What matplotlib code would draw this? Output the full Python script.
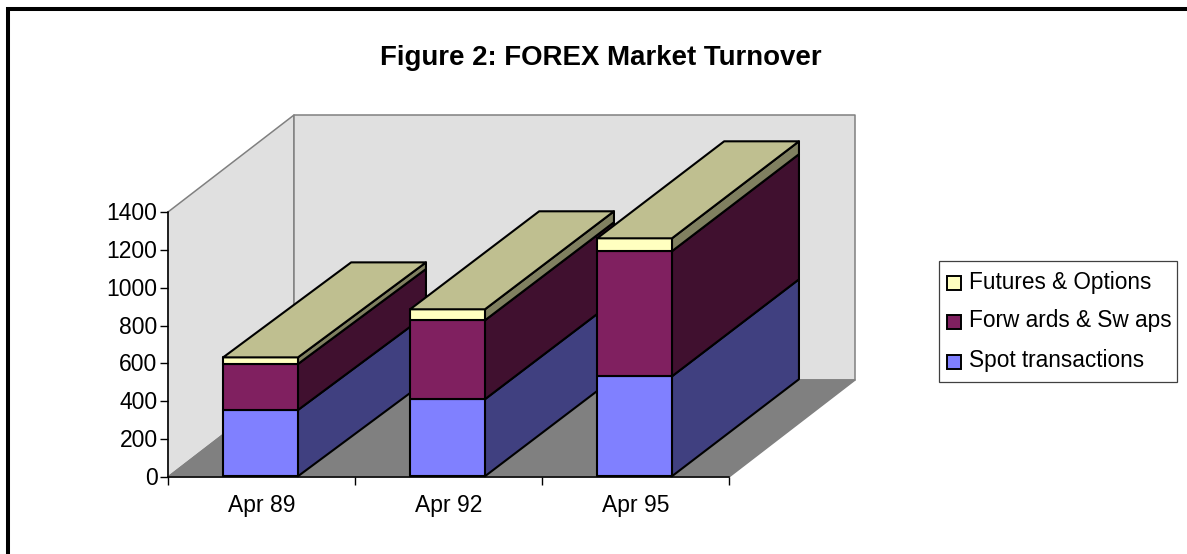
import matplotlib
matplotlib.use("Agg")
import matplotlib.pyplot as plt
from matplotlib.patches import Polygon, Rectangle
from matplotlib.lines import Line2D
from matplotlib.transforms import ScaledTranslation

plt.rcParams['font.family'] = ['Liberation Sans', 'DejaVu Sans']

categories = ['Apr 89', 'Apr 92', 'Apr 95']
spot = [350, 407, 528]
forwards = [243, 417, 661]
futures = [35, 58, 68]
series_names = ['Spot transactions', 'Forw ards & Sw aps', 'Futures & Options']
yticks = [0, 200, 400, 600, 800, 1000, 1200, 1400]
title = 'Figure 2: FOREX Market Turnover'

front_colors = ['#8080FF', '#802060', '#FFFFC0']
side_colors = ['#404080', '#40102F', '#808060']
top_color = '#BFBF90'
WALL = '#E0E0E0'
FLOOR = '#808080'
EDGE = '#808080'

W, H = 1187, 554
fig = plt.figure(figsize=(W / 100, H / 100), dpi=100, facecolor='white')

# full-figure overlay in pixels for the chart frame
bg = fig.add_axes([0, 0, 1, 1])
bg.set_xlim(0, W)
bg.set_ylim(H, 0)
bg.axis('off')
bg.add_line(Line2D([8, 8, W], [H, 9, 9], color='black', lw=2.9,
                   solid_joinstyle='miter', solid_capstyle='butt'))

# main axes = front plane of the 3D box
x0, x1, y0, y1 = 168, 729, 477, 212
ax = fig.add_axes([x0 / W, 1 - y0 / H, (x1 - x0) / W, (y0 - y1) / H])
ax.set_xlim(0, 3)
ax.set_ylim(0, 1400)
ax.patch.set_alpha(0)

# depth vector in data units
px_x = (x1 - x0) / 3
px_y = (y0 - y1) / 1400
dx = 126 / px_x
dy = 97 / px_y
bar_dx = [128 / px_x, 129 / px_x, 127 / px_x]
bar_dy = [95 / px_y, 98 / px_y, 97 / px_y]
LW = 1.1
LW_BAR = 1.5


def poly(pts, fc, ec, lw=LW_BAR, z=2):
    ax.add_patch(Polygon(pts, closed=True, facecolor=fc, edgecolor=ec, lw=lw,
                         joinstyle='round', clip_on=False, zorder=z))


# walls and floor
poly([(0, 0), (0, 1400), (dx, 1400 + dy), (dx, dy)], WALL, EDGE, LW, 1)
poly([(dx, dy), (dx, 1400 + dy), (3 + dx, 1400 + dy), (3 + dx, dy)], WALL, EDGE, LW, 1)
poly([(0, 0), (dx, dy), (3 + dx, dy), (3, 0)], FLOOR, EDGE, LW, 1)

# stacked bars with depth
bar_w = 0.4
z = 3
for i in range(len(categories)):
    left = i + 0.5 - bar_w / 2 - 0.005
    right = left + bar_w
    ddx, ddy = bar_dx[i], bar_dy[i]
    base = 4
    for vals, fc, sc in zip([spot, forwards, futures], front_colors, side_colors):
        top = base + vals[i]
        poly([(right, base), (right, top), (right + ddx, top + ddy), (right + ddx, base + ddy)], sc, 'black', z=z)
        poly([(left, base), (left, top), (right, top), (right, base)], fc, 'black', z=z + 1)
        base = top
    poly([(left, base), (left + ddx, base + ddy), (right + ddx, base + ddy), (right, base)], top_color, 'black', z=z + 1)
    z += 2

# axes furniture
for s in ('top', 'right'):
    ax.spines[s].set_visible(False)
for s in ('left', 'bottom'):
    ax.spines[s].set_color('black')
    ax.spines[s].set_linewidth(1.1)
    ax.spines[s].set_zorder(20)
ax.set_yticks(yticks)
ax.set_xticks([0, 1, 2, 3])
ax.set_xticklabels([])
ax.set_xticks([0.5, 1.5, 2.5], minor=True)
ax.set_xticklabels(categories, minor=True)
ax.tick_params(axis='x', which='major', length=5.5, width=1.0, direction='out')
ax.tick_params(axis='x', which='minor', length=0, labelsize=16.5, pad=12)
ax.tick_params(axis='y', length=5.5, width=1.0, labelsize=16.5, pad=2)
shift = ScaledTranslation(0, 1 / 100, fig.dpi_scale_trans)
for lab in ax.get_yticklabels():
    lab.set_transform(lab.get_transform() + shift)

# title and legend
fig.text(601 / W, 1 - 58 / H, title, ha='center', va='center', fontsize=19.9,
         fontweight='bold', color='black')

bg2 = fig.add_axes([0, 0, 1, 1], zorder=5)
bg2.set_xlim(0, W)
bg2.set_ylim(H, 0)
bg2.axis('off')
bg2.add_patch(Rectangle((939, 261), 238, 121, facecolor='white', edgecolor='#404040', lw=0.9))
for name, color, yc in zip(series_names[::-1], front_colors[::-1], [283, 322, 362]):
    bg2.add_patch(Rectangle((947, yc - 7), 14, 14, facecolor=color, edgecolor='black', lw=1.4))
    bg2.text(969, yc - 1, name, va='center', ha='left', fontsize=16.3, color='black')

fig.savefig('out.png', dpi=100, facecolor='white')
